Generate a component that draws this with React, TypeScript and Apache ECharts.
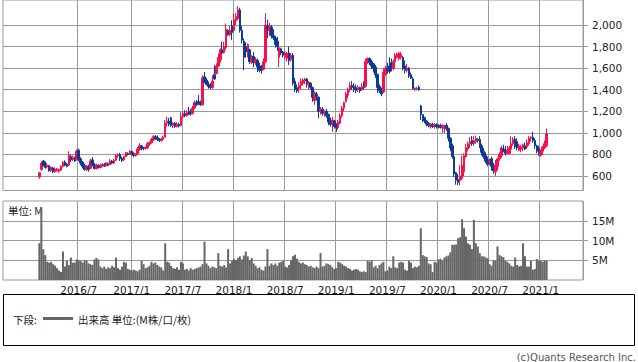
import React, { useEffect, useRef } from "react";
import * as echarts from "echarts";

// Weekly axis: first category is the week of 2015/10/9, 295 weeks shown
const AXIS_START_UTC = Date.UTC(2015, 9, 9);
const WEEK_COUNT = 295;
// first week with data (2016/2/12)
const DATA_START_WEEK = 18;
// first half-year mark that is drawn
const FIRST_MARK_UTC = Date.UTC(2016, 5, 25);

const priceTicks = [600, 800, 1000, 1200, 1400, 1600, 1800, 2000];
const volumeTicks = [5, 10, 15];

// weekly candles: [open, close, low, high]
const ohlc: number[][] = [
  [590, 630, 575, 640], [660, 720, 650, 735], [740, 700, 690, 750], [715, 680, 670, 735], [685, 700, 670, 715],
  [695, 650, 640, 705], [650, 680, 640, 690], [675, 640, 625, 685], [640, 665, 630, 680], [650, 665, 640, 675],
  [645, 660, 630, 670], [655, 690, 645, 700], [690, 725, 680, 740], [730, 700, 690, 745], [710, 690, 680, 720],
  [700, 790, 695, 830], [780, 750, 730, 800], [750, 770, 740, 790], [770, 740, 730, 780], [750, 830, 745, 845],
  [840, 760, 740, 855], [760, 720, 700, 775], [730, 690, 670, 740], [700, 660, 650, 715], [660, 690, 645, 700],
  [690, 660, 640, 705], [670, 740, 665, 760], [750, 700, 690, 775], [705, 670, 660, 720], [670, 700, 660, 715],
  [700, 680, 670, 710], [680, 700, 670, 715], [695, 705, 685, 720], [705, 695, 685, 720], [695, 720, 686, 730],
  [715, 700, 690, 725], [705, 740, 700, 757], [740, 720, 710, 750], [720, 745, 710, 760], [745, 790, 740, 805],
  [785, 800, 770, 810], [800, 760, 740, 815], [765, 745, 730, 780], [750, 780, 740, 790], [780, 815, 775, 825],
  [810, 800, 790, 820], [800, 830, 795, 840], [830, 810, 795, 835], [810, 790, 775, 820], [790, 800, 780, 810],
  [805, 850, 800, 870], [845, 880, 835, 905], [880, 860, 840, 890], [860, 855, 840, 870], [855, 865, 845, 875],
  [860, 900, 855, 915], [895, 910, 880, 920], [910, 940, 900, 955], [935, 965, 925, 980], [965, 950, 935, 980],
  [955, 940, 925, 975], [945, 930, 915, 950], [930, 940, 920, 955], [940, 960, 925, 975], [960, 1090, 955, 1120],
  [1090, 1110, 1060, 1150], [1110, 1080, 1060, 1140], [1140, 1070, 1055, 1150], [1070, 1090, 1045, 1100], [1090, 1060, 1045, 1100],
  [1060, 1080, 1050, 1100], [1080, 1065, 1050, 1095], [1070, 1150, 1060, 1190], [1150, 1180, 1130, 1195], [1180, 1160, 1145, 1210],
  [1160, 1190, 1150, 1210], [1200, 1170, 1165, 1240], [1180, 1175, 1160, 1220], [1180, 1230, 1170, 1250], [1230, 1280, 1220, 1300],
  [1280, 1260, 1250, 1305], [1290, 1270, 1260, 1350], [1280, 1260, 1250, 1300], [1260, 1510, 1255, 1535], [1520, 1470, 1460, 1565],
  [1490, 1450, 1440, 1510], [1450, 1430, 1410, 1475], [1440, 1420, 1405, 1460], [1420, 1480, 1410, 1535], [1540, 1500, 1490, 1628],
  [1550, 1620, 1545, 1645], [1620, 1700, 1610, 1736], [1680, 1770, 1650, 1785], [1770, 1740, 1730, 1845], [1745, 1800, 1735, 1845],
  [1790, 1960, 1770, 2014], [1950, 1910, 1900, 1960], [1910, 1950, 1895, 1990], [1990, 1930, 1860, 2044], [1950, 2050, 1940, 2106],
  [2040, 2080, 2000, 2110], [2060, 2140, 2045, 2174], [2140, 1950, 1930, 2160], [1950, 1860, 1830, 1990], [1850, 1700, 1580, 1875],
  [1800, 1750, 1700, 1840], [1720, 1820, 1700, 1830], [1770, 1660, 1640, 1780], [1660, 1700, 1640, 1720], [1710, 1650, 1610, 1750],
  [1650, 1680, 1630, 1700], [1670, 1610, 1565, 1690], [1620, 1580, 1560, 1650], [1600, 1580, 1550, 1630], [1590, 1660, 1580, 1690],
  [1660, 2000, 1650, 2110], [1990, 1960, 1880, 2050], [1950, 1990, 1900, 2020], [1980, 1900, 1875, 2000], [1900, 1880, 1860, 1960],
  [1880, 1820, 1790, 1900], [1850, 1800, 1760, 1890], [1700, 1790, 1610, 1800], [1780, 1740, 1720, 1790], [1750, 1720, 1700, 1760],
  [1700, 1740, 1680, 1760], [1690, 1740, 1660, 1750], [1740, 1670, 1630, 1800], [1680, 1720, 1660, 1740], [1720, 1460, 1440, 1740],
  [1480, 1400, 1380, 1510], [1420, 1390, 1370, 1450], [1410, 1440, 1370, 1470], [1440, 1480, 1400, 1505], [1460, 1490, 1440, 1505],
  [1480, 1500, 1450, 1510], [1500, 1450, 1420, 1510], [1450, 1470, 1400, 1480], [1460, 1420, 1400, 1470], [1420, 1330, 1290, 1430],
  [1300, 1370, 1260, 1385], [1360, 1340, 1300, 1380], [1330, 1200, 1135, 1340], [1200, 1220, 1170, 1240], [1220, 1180, 1160, 1240],
  [1180, 1200, 1150, 1210], [1200, 1160, 1140, 1220], [1170, 1100, 1070, 1180], [1110, 1080, 1060, 1140], [1080, 1120, 1010, 1150],
  [1110, 1060, 1040, 1120], [1060, 1050, 1010, 1090], [1050, 1100, 1030, 1120], [1090, 1160, 1080, 1180], [1160, 1230, 1140, 1250],
  [1230, 1280, 1200, 1290], [1290, 1360, 1280, 1380], [1350, 1400, 1320, 1420], [1400, 1440, 1380, 1470], [1440, 1420, 1400, 1480],
  [1430, 1400, 1380, 1460], [1420, 1390, 1370, 1450], [1400, 1420, 1380, 1440], [1420, 1390, 1370, 1430], [1400, 1430, 1390, 1460],
  [1430, 1420, 1400, 1480], [1430, 1660, 1420, 1690], [1660, 1690, 1640, 1700], [1690, 1650, 1630, 1700], [1660, 1620, 1590, 1680],
  [1640, 1600, 1560, 1650], [1610, 1540, 1510, 1630], [1540, 1420, 1370, 1550], [1430, 1390, 1370, 1450], [1400, 1360, 1340, 1420],
  [1380, 1560, 1370, 1600], [1540, 1600, 1530, 1620], [1600, 1580, 1550, 1650], [1620, 1570, 1550, 1700], [1650, 1600, 1570, 1690],
  [1600, 1660, 1580, 1680], [1660, 1720, 1640, 1740], [1700, 1730, 1690, 1745], [1690, 1740, 1670, 1750], [1700, 1730, 1680, 1750],
  [1700, 1600, 1580, 1710], [1620, 1580, 1550, 1670], [1580, 1600, 1560, 1640], [1600, 1530, 1510, 1610], [1540, 1510, 1500, 1560],
  [1500, 1410, 1400, 1520], [1400, 1415, 1390, 1420], [1405, 1415, 1395, 1425], [1425, 1400, 1390, 1440], [1250, 1170, 1120, 1260],
  [1170, 1130, 1100, 1170], [1140, 1110, 1090, 1150], [1110, 1080, 1060, 1120], [1090, 1070, 1050, 1100], [1060, 1080, 1040, 1090],
  [1080, 1060, 1045, 1095], [1060, 1075, 1040, 1090], [1075, 1060, 1040, 1090], [1070, 1055, 1040, 1080], [1065, 1050, 1040, 1085],
  [1050, 1070, 1000, 1080], [1040, 1060, 1000, 1075], [1070, 1040, 1020, 1090], [1040, 950, 920, 1050], [950, 860, 830, 960],
  [880, 780, 760, 900], [780, 620, 590, 800], [630, 560, 520, 640], [570, 540, 515, 620], [560, 600, 515, 700],
  [580, 700, 560, 790], [640, 790, 600, 810], [780, 860, 770, 900], [850, 900, 830, 920], [900, 920, 860, 960],
  [930, 900, 880, 970], [900, 930, 880, 970], [920, 950, 900, 975], [940, 930, 910, 950], [940, 880, 860, 970],
  [880, 820, 790, 900], [830, 780, 760, 860], [790, 740, 720, 820], [750, 710, 690, 780], [730, 740, 700, 760],
  [760, 690, 650, 780], [700, 650, 620, 720], [640, 700, 600, 750], [690, 760, 650, 770], [760, 800, 740, 820],
  [790, 860, 770, 880], [850, 830, 820, 890], [840, 810, 790, 880], [810, 840, 800, 880], [810, 860, 800, 880],
  [850, 900, 830, 970], [900, 940, 880, 960], [940, 870, 850, 970], [920, 860, 840, 950], [840, 880, 830, 900],
  [850, 870, 820, 890], [860, 890, 830, 900], [880, 850, 840, 910], [870, 910, 850, 940], [900, 950, 880, 970],
  [950, 960, 920, 970], [960, 930, 910, 1010], [930, 880, 850, 950], [880, 830, 810, 890], [860, 810, 790, 880],
  [790, 830, 780, 845], [830, 870, 800, 880], [860, 900, 850, 930], [880, 990, 870, 1040],
];

// weekly volume, millions
const volume: number[] = [
  9.3, 18.1, 7.8, 6.3, 4.6, 4.4, 4.6, 4.0, 3.6, 3.0,
  2.4, 2.0, 7.2, 3.4, 4.9, 3.8, 5.7, 4.4, 4.4, 5.2,
  5.0, 4.8, 4.4, 5.0, 4.9, 4.2, 4.0, 3.8, 5.2, 5.6,
  5.2, 3.4, 3.0, 3.4, 2.8, 3.2, 3.0, 3.6, 3.2, 5.7,
  3.0, 2.6, 3.4, 4.6, 4.4, 2.8, 2.6, 2.4, 2.6, 2.4,
  2.2, 2.6, 4.9, 4.0, 3.0, 3.2, 3.6, 4.6, 4.2, 4.4,
  3.8, 3.4, 3.2, 2.4, 9.3, 4.6, 4.4, 3.6, 3.0, 2.8,
  3.2, 2.6, 4.6, 4.2, 2.6, 2.8, 2.4, 3.0, 2.6, 2.8,
  3.0, 3.2, 3.4, 4.0, 9.7, 4.2, 3.6, 3.0, 3.4, 3.2,
  3.0, 6.8, 3.6, 3.4, 3.8, 3.2, 7.8, 4.2, 4.9, 5.4,
  5.0, 5.6, 6.0, 5.2, 6.2, 7.2, 6.0, 5.0, 5.6, 4.2,
  3.6, 3.0, 3.2, 2.6, 2.4, 3.4, 7.8, 3.6, 4.2, 3.8,
  4.2, 3.6, 4.4, 4.6, 4.9, 3.4, 3.2, 3.8, 5.0, 6.0,
  6.4, 5.4, 4.6, 4.2, 4.4, 4.0, 3.8, 3.4, 3.6, 3.2,
  3.0, 3.4, 3.0, 6.8, 3.4, 3.6, 4.2, 4.0, 3.8, 3.2,
  2.8, 3.0, 4.6, 4.4, 4.0, 3.6, 3.4, 3.0, 2.8, 2.4,
  2.6, 2.8, 2.6, 2.2, 2.0, 2.2, 2.0, 4.9, 4.6, 5.0,
  3.2, 3.6, 3.0, 3.8, 4.2, 4.6, 2.2, 2.4, 3.4, 3.0,
  6.0, 3.2, 3.0, 4.4, 4.6, 4.4, 2.6, 2.4, 4.9, 4.4,
  3.0, 3.4, 3.2, 3.6, 13.1, 6.3, 6.0, 5.8, 4.2, 4.0,
  2.0, 4.6, 4.4, 5.2, 5.4, 4.9, 5.7, 6.0, 6.2, 7.0,
  8.9, 8.9, 9.0, 10.6, 10.8, 15.4, 13.1, 11.0, 9.3, 8.9,
  7.8, 15.2, 9.3, 8.5, 6.8, 6.0, 6.0, 5.7, 5.5, 4.0,
  3.6, 4.9, 4.9, 8.5, 6.3, 6.0, 5.8, 4.9, 4.6, 4.2,
  3.6, 3.4, 5.7, 3.8, 3.4, 3.6, 9.3, 6.0, 3.4, 3.4,
  4.9, 2.6, 2.8, 5.3, 4.9, 4.9, 4.6, 4.9, 4.9,
];

const UP = "#f8104a";
const DOWN = "#0c3a98";
const GRID = "#9a9a9a";

function buildWeeks() {
  const cats: string[] = [];
  const halfYear: boolean[] = [];
  for (let i = 0; i < WEEK_COUNT; i++) {
    const t = AXIS_START_UTC + i * 7 * 86400000;
    const d = new Date(t);
    const y = d.getUTCFullYear();
    const m = d.getUTCMonth() + 1;
    cats.push(`${y}/${m}/${d.getUTCDate()}`);
    halfYear.push(t >= FIRST_MARK_UTC && d.getUTCDate() <= 7 && (m === 1 || m === 7));
  }
  return { cats, halfYear };
}

export default function App() {
  const ref = useRef<HTMLDivElement>(null);
  useEffect(() => {
    if (!ref.current) return;
    const chart = echarts.init(ref.current, undefined, { renderer: "svg" });
    const { cats, halfYear } = buildWeeks();
    const candleData = ohlc.map((c, i) => [DATA_START_WEEK + i, c[0], c[1], c[2], c[3]]);
    const volData = volume.map((v, i) => [DATA_START_WEEK + i, v]);
    const isHalf = (idx: number) => !!halfYear[idx];
    const font = "DejaVu Sans";
    const cjk = "'Noto Sans CJK JP', 'DejaVu Sans'";

    chart.setOption({
      animation: false,
      textStyle: { fontFamily: font },
      grid: [
        { left: 3, top: 0, width: 580, height: 190.5, show: true, borderColor: GRID, borderWidth: 1 },
        { left: 3, top: 201, width: 580, height: 79, show: true, borderColor: GRID, borderWidth: 1 },
      ],
      xAxis: [
        {
          type: "category", gridIndex: 0, data: cats, boundaryGap: true,
          axisLine: { show: false }, axisTick: { show: false }, axisLabel: { show: false },
          splitLine: { show: true, interval: isHalf, lineStyle: { color: GRID, width: 1 } },
        },
        {
          type: "category", gridIndex: 1, data: cats, boundaryGap: true,
          axisLine: { show: false }, axisTick: { show: false },
          axisLabel: {
            show: true, interval: isHalf, margin: 4, fontSize: 10.5, color: "#222", fontFamily: font,
            formatter: (v: string) => v.split("/").slice(0, 2).join("/"),
          },
          splitLine: { show: true, interval: isHalf, lineStyle: { color: GRID, width: 1 } },
        },
      ],
      yAxis: [
        {
          type: "value", gridIndex: 0, position: "right", min: 466, max: 2232, splitNumber: 9,
          axisLine: { show: false },
          axisTick: { show: true, length: 5, customValues: priceTicks, lineStyle: { color: GRID } },
          axisLabel: {
            customValues: priceTicks, margin: 9, fontSize: 10.5, color: "#222", fontFamily: font,
            formatter: (v: number) => v.toLocaleString("en-US"),
          },
          splitLine: { show: true, lineStyle: { color: GRID, width: 1 } },
        },
        {
          type: "value", gridIndex: 1, position: "right", min: 0, max: 20, interval: 5,
          axisLine: { show: false },
          axisTick: { show: true, length: 5, customValues: volumeTicks, lineStyle: { color: GRID } },
          axisLabel: {
            customValues: volumeTicks, margin: 9, fontSize: 10.5, color: "#222", fontFamily: font,
            formatter: (v: number) => `${v}M`,
          },
          splitLine: { show: true, lineStyle: { color: GRID, width: 1 } },
        },
      ],
      series: [
        {
          type: "candlestick", xAxisIndex: 0, yAxisIndex: 0,
          data: candleData, encode: { x: 0, y: [1, 2, 3, 4] },
          barWidth: 2,
          itemStyle: { color: UP, color0: DOWN, borderColor: UP, borderColor0: DOWN, borderWidth: 1 },
        },
        {
          type: "bar", xAxisIndex: 1, yAxisIndex: 1,
          data: volData, encode: { x: 0, y: 1 },
          barWidth: 2, itemStyle: { color: "#666666" },
        },
      ],
      graphic: [
        {
          type: "text", x: 8, y: 210, z: 1,
          style: { text: "単位: M", font: `10.5px ${cjk}`, fill: "#222", verticalAlign: "middle" },
        },
        {
          type: "rect", shape: { x: 3.5, y: 294.5, width: 631, height: 51 },
          style: { fill: "none", stroke: "#000", lineWidth: 1 },
        },
        {
          type: "text", x: 13, y: 319.5,
          style: { text: "下段:", font: `10.5px ${cjk}`, fill: "#222", verticalAlign: "middle" },
        },
        {
          type: "line", shape: { x1: 43, y1: 318.5, x2: 73, y2: 318.5 },
          style: { stroke: "#666666", lineWidth: 3 },
        },
        {
          type: "text", x: 78, y: 319.5,
          style: { text: "出来高 単位:(M株/口/枚)", font: `10.5px ${cjk}`, fill: "#222", verticalAlign: "middle" },
        },
        {
          type: "text", x: 636, y: 357.5,
          style: { text: "(c)Quants Research Inc.", font: `10px ${font}`, fill: "#555", align: "right", verticalAlign: "middle" },
        },
      ],
    });
    return () => chart.dispose();
  }, []);
  return (
    <div
      ref={ref}
      style={{ position: "absolute", left: 0, top: 0, width: 638, height: 362, background: "#fff" }}
    />
  );
}
